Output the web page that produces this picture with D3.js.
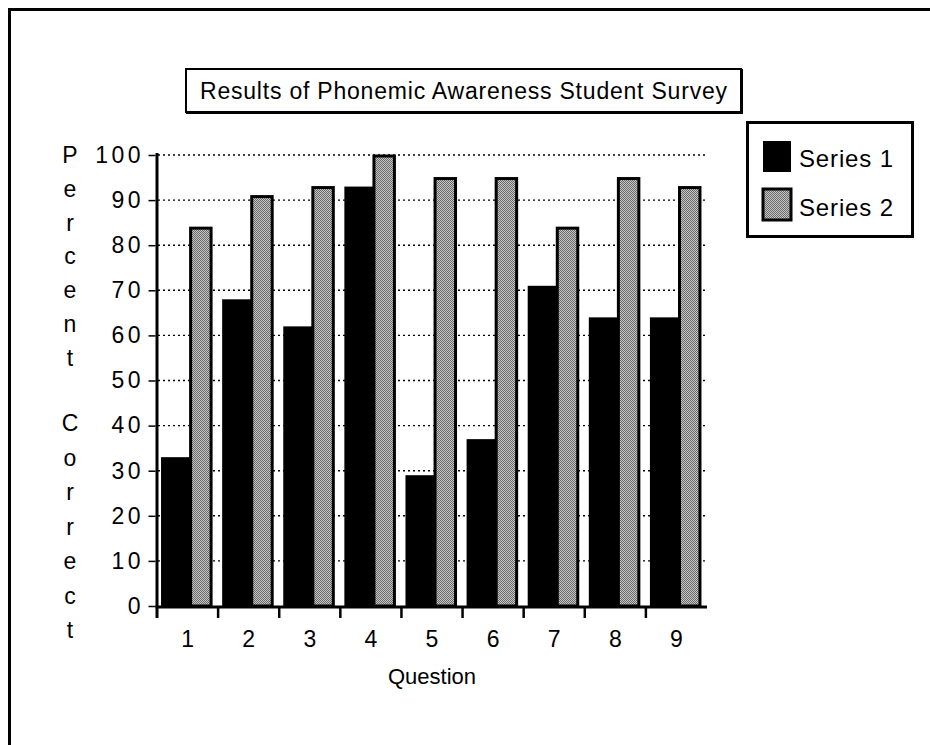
<!DOCTYPE html>
<html><head><meta charset="utf-8">
<script src="https://cdn.jsdelivr.net/npm/d3@7"></script>
<style>
body{margin:0;background:#fff;}
svg{display:block;font-family:"Liberation Sans",Arial,Helvetica,sans-serif;}
</style></head>
<body><svg id="c" width="930" height="745"></svg>
<script>
const categories = ["1","2","3","4","5","6","7","8","9"];
const series1 = [33, 68, 62, 93, 29, 37, 71, 64, 64];
const series2 = [84, 91, 93, 100, 95, 95, 84, 95, 93];
const seriesNames = ["Series 1", "Series 2"];
const yTicks = [0,10,20,30,40,50,60,70,80,90,100];
const title = "Results of Phonemic Awareness Student Survey";
const xTitle = "Question";
const yTitleWords = ["Percent", "Correct"];

const svg = d3.select("#c");
// dithered gray pattern
const defs = svg.append("defs");
const pat = defs.append("pattern").attr("id","dither").attr("width",2).attr("height",2)
  .attr("patternUnits","userSpaceOnUse");
pat.append("rect").attr("width",2).attr("height",2).attr("fill","#c6c6c6");
pat.append("rect").attr("width",1).attr("height",1).attr("fill","#6a6a6a");
pat.append("rect").attr("x",1).attr("y",1).attr("width",1).attr("height",1).attr("fill","#6a6a6a");

// outer frame (top + left)
svg.append("line").attr("x1",8).attr("x2",930).attr("y1",9.5).attr("y2",9.5).attr("stroke","#000").attr("stroke-width",3);
svg.append("line").attr("x1",9.5).attr("x2",9.5).attr("y1",8).attr("y2",745).attr("stroke","#000").attr("stroke-width",3);

const x = d3.scaleBand().domain(categories).range([157, 707]).padding(0);
const y = d3.scaleLinear().domain([0,100]).range([606, 155]);
const bw = x.bandwidth();

// grid lines
svg.append("g").selectAll("line").data(yTicks.filter(d=>d>0)).join("line")
  .attr("x1",158).attr("x2",707).attr("y1",d=>y(d)).attr("y2",d=>y(d))
  .attr("stroke","#000").attr("stroke-width",1.4).attr("stroke-dasharray","2,3");

// bars
const g = svg.append("g");
g.selectAll("rect.s1").data(series1).join("rect").attr("class","s1")
  .attr("x",(d,i)=>x(categories[i]) + bw*0.066).attr("width",bw*0.49)
  .attr("y",d=>y(d)).attr("height",d=>y(0)-y(d)).attr("fill","#000");
g.selectAll("rect.s2").data(series2).join("rect").attr("class","s2")
  .attr("x",(d,i)=>x(categories[i]) + bw*0.55).attr("width",bw*0.335)
  .attr("y",d=>y(d)+1).attr("height",d=>y(0)-y(d)-1)
  .attr("fill","url(#dither)").attr("stroke","#000").attr("stroke-width",3);

// y axis
const yAxis = d3.axisLeft(y).tickValues(yTicks).tickSize(7).tickPadding(8);
const ya = svg.append("g").attr("transform","translate(155.5,0)").call(yAxis);
ya.select(".domain").remove();
ya.selectAll(".tick line").attr("stroke","#000").attr("stroke-width",1.5);
ya.selectAll(".tick text").attr("font-size",23).attr("fill","#000")
  .attr("font-family","Liberation Sans, Arial, sans-serif")
  .style("letter-spacing","3.5px").attr("dx","3.5");
svg.append("line").attr("x1",157).attr("x2",157).attr("y1",153).attr("y2",618).attr("stroke","#000").attr("stroke-width",3);

// x axis
const xAxis = d3.axisBottom(x).tickSize(0).tickPadding(24);
const xa = svg.append("g").attr("transform","translate(0,607)").call(xAxis);
xa.select(".domain").remove();
xa.selectAll(".tick text").attr("font-size",23).attr("fill","#000")
  .attr("font-family","Liberation Sans, Arial, sans-serif");
svg.append("line").attr("x1",155.5).attr("x2",707).attr("y1",607).attr("y2",607).attr("stroke","#000").attr("stroke-width",3);
svg.append("g").selectAll("line").data(categories.slice(1)).join("line")
  .attr("x1",d=>x(d)).attr("x2",d=>x(d)).attr("y1",607).attr("y2",618)
  .attr("stroke","#000").attr("stroke-width",2.5);

// axis titles
svg.append("text").attr("x",432).attr("y",684).attr("text-anchor","middle")
  .attr("font-size",22).text(xTitle);
const letters = [];
yTitleWords.forEach((w,wi)=>{ w.split("").forEach((ch,ci)=>letters.push({ch, wi, ci})); });
svg.append("g").selectAll("text").data(letters).join("text")
  .attr("x",70).attr("text-anchor","middle").attr("font-size",23)
  .attr("y",d=> d.wi===0 ? 163 + d.ci*33.8 : 431 + d.ci*34.5)
  .text(d=>d.ch);

// title box
svg.append("rect").attr("x",186).attr("y",69).attr("width",555).attr("height",43)
  .attr("fill","#fff").attr("stroke","#000").attr("stroke-width",2);
svg.append("line").attr("x1",186).attr("x2",742).attr("y1",112.5).attr("y2",112.5).attr("stroke","#000").attr("stroke-width",3);
svg.append("line").attr("x1",741.5).attr("x2",741.5).attr("y1",69).attr("y2",114).attr("stroke","#000").attr("stroke-width",3);
svg.append("text").attr("x",463.5).attr("y",99).attr("text-anchor","middle")
  .attr("font-size",23).attr("textLength",527).attr("lengthAdjust","spacing").text(title);

// legend
svg.append("rect").attr("x",747.5).attr("y",122.5).attr("width",165).attr("height",114)
  .attr("fill","#fff").attr("stroke","#000").attr("stroke-width",3);
const lg = svg.append("g").selectAll("g").data(seriesNames).join("g");
lg.append("rect").attr("x",763).attr("y",(d,i)=>141 + i*48).attr("width",28).attr("height",31)
  .attr("fill",(d,i)=> i===0 ? "#000" : "url(#dither)")
  .attr("stroke","#000").attr("stroke-width",(d,i)=> i===0 ? 0 : 3);
lg.append("text").attr("x",799).attr("y",(d,i)=>167 + i*49).attr("font-size",24)
  .attr("textLength",94).attr("lengthAdjust","spacing").text(d=>d);
</script></body></html>
